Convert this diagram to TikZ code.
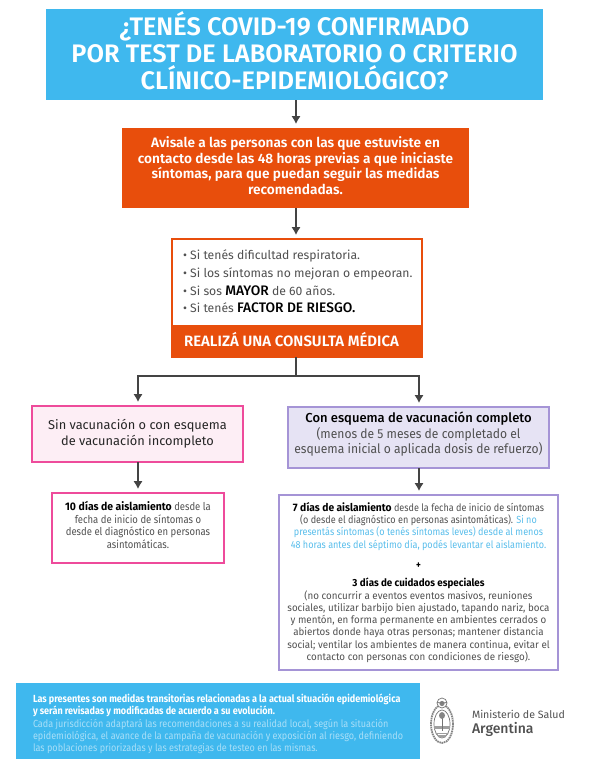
\documentclass[tikz,border=0pt]{standalone}
\usepackage{fontspec}
\usetikzlibrary{arrows.meta}
\setmainfont{Fira Sans}
\newfontfamily\narrowfont[FakeStretch=0.88]{Fira Sans}
\newfontfamily\midfont[FakeStretch=0.95]{Fira Sans}
\newfontfamily\wideish[FakeStretch=0.93]{Fira Sans}
\newfontfamily\mediumfont{Fira Sans Medium}
\newfontfamily\semifont{Fira Sans SemiBold}
\definecolor{skyblue}{HTML}{3FB8EE}
\definecolor{alertorange}{HTML}{E84E0C}
\definecolor{pinkline}{HTML}{EE4B9B}
\definecolor{pinkfill}{HTML}{FDEEF5}
\definecolor{lilacline}{HTML}{A594D6}
\definecolor{lilacfill}{HTML}{E6E3F4}
\definecolor{bodygray}{HTML}{505050}
\definecolor{arrowgray}{HTML}{444444}
\definecolor{paleblue}{HTML}{A9DFF8}
\definecolor{linkblue}{HTML}{58BDEB}

\newcommand\Fsize[2]{\fontsize{#1}{#2}\selectfont}
\newcommand\Strong[1]{\textcolor{black}{\mediumfont #1}}
\newcommand\Lead[2]{\textcolor{black}{\Fsize{#1}{12}\midfont\bfseries #2}}

\begin{document}
\begin{tikzpicture}[x=1pt,y=-1pt]
\tikzset{%
  flow/.style={draw=arrowgray,line width=2pt,-{Latex[length=8pt,width=9.5pt]},shorten >=4pt},
  branch/.style={draw=arrowgray,line width=2pt},
  box/.style={inner sep=0pt,outer sep=0pt,align=center,anchor=north west},
  bluebox/.style={box,fill=skyblue,text=white},
  orangebox/.style={box,fill=alertorange,text=white},
  pinkbox/.style={box,draw=pinkline,line width=1.4pt,text=bodygray},
  lilacbox/.style={box,draw=lilacline,line width=1.4pt,text=bodygray},
  logoline/.style={draw=bodygray!80,line width=.7pt}
}
\useasboundingbox (0,0) rectangle (589,769);

%% header and warning

\node[bluebox,minimum width=497pt,minimum height=91pt,text depth=8pt,font=\Fsize{25.35}{26.8}\semifont]
  (title) at (46,9) {¿TENÉS COVID-19 CONFIRMADO\\ POR TEST DE LABORATORIO O CRITERIO\\ CLÍNICO-EPIDEMIOLÓGICO?};
\node[orangebox,minimum width=347pt,minimum height=80pt,text depth=5pt,font=\Fsize{13.65}{15.9}\semifont]
  (warning) at (122,128) {Avisale a las personas con las que estuviste en\\ contacto desde las 48 horas previas a que iniciaste\\ síntomas, para que puedan seguir las medidas\\ recomendadas.};

%% consult box

\node[box,draw=alertorange,line width=1.4pt,minimum width=250pt,minimum height=118pt,fill=white]
  (consult) at (172,239) {};
\node[orangebox,minimum width=250pt,minimum height=32pt,text depth=4pt,font=\Fsize{15}{15}\semifont]
  (consultfoot) at (172,325) {REALIZÁ UNA CONSULTA MÉDICA\hspace*{11pt}};
\node[box,align=left,text=bodygray,font=\Fsize{12.2}{17.7}]
  (consulttext) at (183,250) {• Si tenés dificultad respiratoria.\\
  • Si los síntomas no mejoran o empeoran.\\
  • Si sos \Strong{\Fsize{13.8}{17.7}MAYOR} de 60 años.\\
  • Si tenés \Strong{\Fsize{13.8}{17.7}FACTOR DE RIESGO.}};

%% left branch

\node[pinkbox,fill=pinkfill,minimum width=211pt,minimum height=56pt,text=black!85,font=\Fsize{12.8}{15.8}]
  (nodose) at (32,406) {Sin vacunación o con esquema\\ de vacunación incompleto};
\node[pinkbox,minimum width=172pt,minimum height=70pt,text depth=6pt,font=\Fsize{10.8}{12.6}\narrowfont]
  (tendays) at (52,493) {\Lead{11}{10 días de aislamiento} desde la\\ fecha de inicio de síntomas o\\ desde el diagnóstico en personas\\ asintomáticas.};

%% right branch

\node[lilacbox,fill=lilacfill,minimum width=261pt,minimum height=61pt,text depth=9pt,font=\Fsize{13}{15.4}\wideish]
  (fulldose) at (288,407) {\Strong{Con esquema de vacunación completo}\\ (menos de 5 meses de completado el\\ esquema inicial o aplicada dosis de refuerzo)};
\node[lilacbox,minimum width=279pt,minimum height=175pt,font=\Fsize{10.3}{12.3}\narrowfont]
  (sevendays) at (279,495) {\Lead{10.8}{7 días de aislamiento} desde la fecha de inicio de síntomas\\
  (o desde el diagnóstico en personas asintomáticas). \textcolor{linkblue}{Si no}\\
  \textcolor{linkblue}{presentás síntomas (o tenés síntomas leves) desde al menos}\\
  \textcolor{linkblue}{48 horas antes del séptimo día, podés levantar el aislamiento.}\\[8pt]
  \textcolor{black}{\textbf{+}}\\[6pt]
  \midfont\textcolor{black}{\textbf{3 días de cuidados especiales}}\\
  \midfont (no concurrir a eventos eventos masivos, reuniones\\
  \midfont sociales, utilizar barbijo bien ajustado, tapando nariz, boca\\
  \midfont y mentón, en forma permanente en ambientes cerrados o\\
  \midfont abiertos donde haya otras personas; mantener distancia\\
  \midfont social; ventilar los ambientes de manera continua, evitar el\\
  \midfont contacto con personas con condiciones de riesgo).};

%% connectors

\coordinate (axis) at (296,0);
\coordinate (split) at (296,376);
\coordinate (splitL) at (138,376);
\coordinate (splitR) at (419,376);
\draw[flow] (title.south -| axis) -- (warning.north -| axis);
\draw[flow] (warning.south -| axis) -- (consult.north -| axis);
\draw[branch] (consultfoot.south -| axis) -- (split);
\draw[branch,line cap=rect] (splitL) -- (splitR);
\draw[flow] (splitL) -- (nodose.north -| splitL);
\draw[flow] (splitR) -- (fulldose.north -| splitR);
\draw[flow] (nodose.south -| splitL) -- (tendays.north -| splitL);
\draw[flow] (fulldose.south -| splitR) -- (sevendays.north -| splitR);

%% footer

\node[bluebox,minimum width=404pt,minimum height=76pt]
  (footer) at (16,683) {};
\node[box,align=left,text=white,font=\Fsize{10.3}{12.3}\narrowfont]
  (footertext) at (33,694) {\textbf{Las presentes son medidas transitorias relacionadas a la actual situación epidemiológica}\\
  \textbf{y serán revisadas y modificadas de acuerdo a su evolución.}\\
  \textcolor{paleblue}{Cada jurisdicción adaptará las recomendaciones a su realidad local, según la situación}\\
  \textcolor{paleblue}{epidemiológica, el avance de la campaña de vacunación y exposición al riesgo, definiendo}\\
  \textcolor{paleblue}{las poblaciones priorizadas y las estrategias de testeo en las mismas.}};

%% logo

\def\LX{442} % logo axis
\draw[logoline,line width=1.8pt,dash pattern=on 1.6pt off .7pt,bodygray!70] (\LX,724) ellipse (11pt and 19pt);
\draw[logoline,fill=white] (\LX,724) ellipse (8pt and 14pt);
\draw[logoline,fill=white] (\LX,703) circle (5pt);
\fill[bodygray!70] (\LX,703.5) circle (2.6pt);
\draw[logoline] (\LX-5,702) arc (180:360:5pt and 1pt);
\fill[bodygray!55] (\LX-8,726) rectangle (\LX+8,729);
\fill[bodygray!55] (\LX-6.5,733) -- (\LX+6.5,733) -- (\LX+3,737.5) -- (\LX-3,737.5) -- cycle;
\fill[white] (\LX-4,733.5) rectangle (\LX+4,735);
\draw[logoline,line width=1pt] (\LX,716) -- (\LX,731);
\fill[bodygray!70] (\LX,715.5) ellipse (3pt and 3.4pt);
\node[box,text=bodygray,align=left,font=\Fsize{10.6}{13}] (ministry) at (472,710) {Ministerio de Salud};
\node[box,text=bodygray,align=left,font=\Fsize{14}{15}\mediumfont] (argentina) at (472,722) {Argentina};
\end{tikzpicture}
\end{document}
